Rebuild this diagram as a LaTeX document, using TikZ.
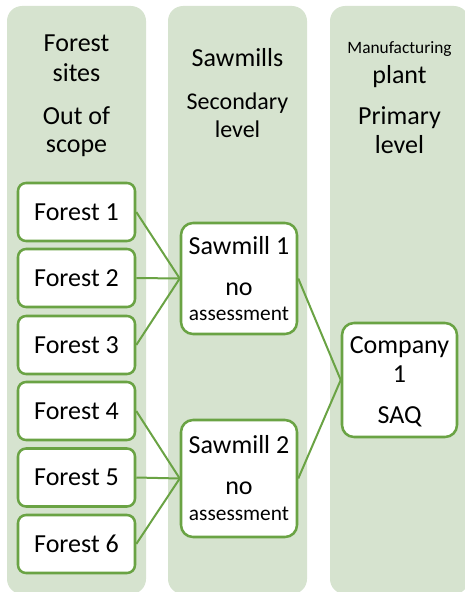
\documentclass[tikz,border=0pt]{standalone}
\usepackage{fontspec}
\setmainfont{Carlito}
\definecolor{lanefill}{RGB}{214,227,207}
\definecolor{leaf}{RGB}{106,163,68}
\tikzset{
  lane/.style={fill=lanefill, rounded corners=11.25pt},
  card/.style={draw=leaf, line width=1.9pt, fill=white, inner sep=0pt},
  forestbox/.style={card, rounded corners=6pt, minimum width=87.75pt, minimum height=43.5pt, font=\fontsize{19.5}{23}\selectfont},
  link/.style={draw=leaf, line width=1.5pt},
  big/.style={anchor=base, inner sep=0pt, font=\fontsize{19.5}{23}\selectfont},
  mid/.style={anchor=base, inner sep=0pt, font=\fontsize{18}{21}\selectfont},
  small/.style={anchor=base, inner sep=0pt, font=\fontsize{16}{19}\selectfont},
  tiny/.style={anchor=base, inner sep=0pt, font=\fontsize{13}{15}\selectfont},
}
\begin{document}
\begin{tikzpicture}[x=0.75pt, y=-0.75pt]
\useasboundingbox (0,0) rectangle (464,592);

% three swim lanes
\fill[lane] (7,6) rectangle (146,594);
\fill[lane] (168,6) rectangle (307,594);
\fill[lane] (330,6) rectangle (469,594);

% lane headings
\node[big] (h1a) at (76.5,51) {Forest};
\node[big] (h1b) at (76.5,82) {sites};
\node[big] (h1c) at (76.5,124) {Out of};
\node[big] (h1d) at (76.5,152) {scope};

\node[big] (h2a) at (237.5,67) {Sawmills};
\node[mid] (h2b) at (237.5,109) {Secondary};
\node[mid] (h2c) at (237.5,137) {level};

\node[tiny] (h3a) at (399.5,54) {Manufacturing};
\node[big] (h3b) at (399.5,84) {plant};
\node[big] (h3c) at (399.5,124) {Primary};
\node[big] (h3d) at (399.5,153) {level};

% forest sites
\node[forestbox] (f1) at (76.5,212) {Forest 1};
\node[forestbox] (f2) at (76.5,278) {Forest 2};
\node[forestbox] (f3) at (76.5,345) {Forest 3};
\node[forestbox] (f4) at (76.5,411) {Forest 4};
\node[forestbox] (f5) at (76.5,477.5) {Forest 5};
\node[forestbox] (f6) at (76.5,544) {Forest 6};

% sawmills
\node[card, rounded corners=9pt, minimum width=87pt, minimum height=83.25pt] (s1) at (239,278.5) {};
\node[big] (s1a) at (239,254) {Sawmill 1};
\node[big] (s1b) at (239,295) {no};
\node[small] (s1c) at (239,320) {assessment};

\node[card, rounded corners=9pt, minimum width=87pt, minimum height=87.75pt] (s2) at (239,478.5) {};
\node[big] (s2a) at (239,453) {Sawmill 2};
\node[big] (s2b) at (239,494) {no};
\node[small] (s2c) at (239,520) {assessment};

% manufacturing plant
\node[card, rounded corners=9pt, minimum width=86.25pt, minimum height=85.5pt] (c1) at (399.5,380) {};
\node[big] (c1a) at (399.5,353) {Company};
\node[big] (c1b) at (399.5,382) {1};
\node[big] (c1c) at (399.5,423) {SAQ};

% supply links
\draw[link] (f1.east) -- (s1.west);
\draw[link] (f2.east) -- (s1.west);
\draw[link] (f3.east) -- (s1.west);
\draw[link] (f4.east) -- (s2.west);
\draw[link] (f5.east) -- (s2.west);
\draw[link] (f6.east) -- (s2.west);
\draw[link] (s1.east) -- (c1.west);
\draw[link] (s2.east) -- (c1.west);
\end{tikzpicture}
\end{document}
